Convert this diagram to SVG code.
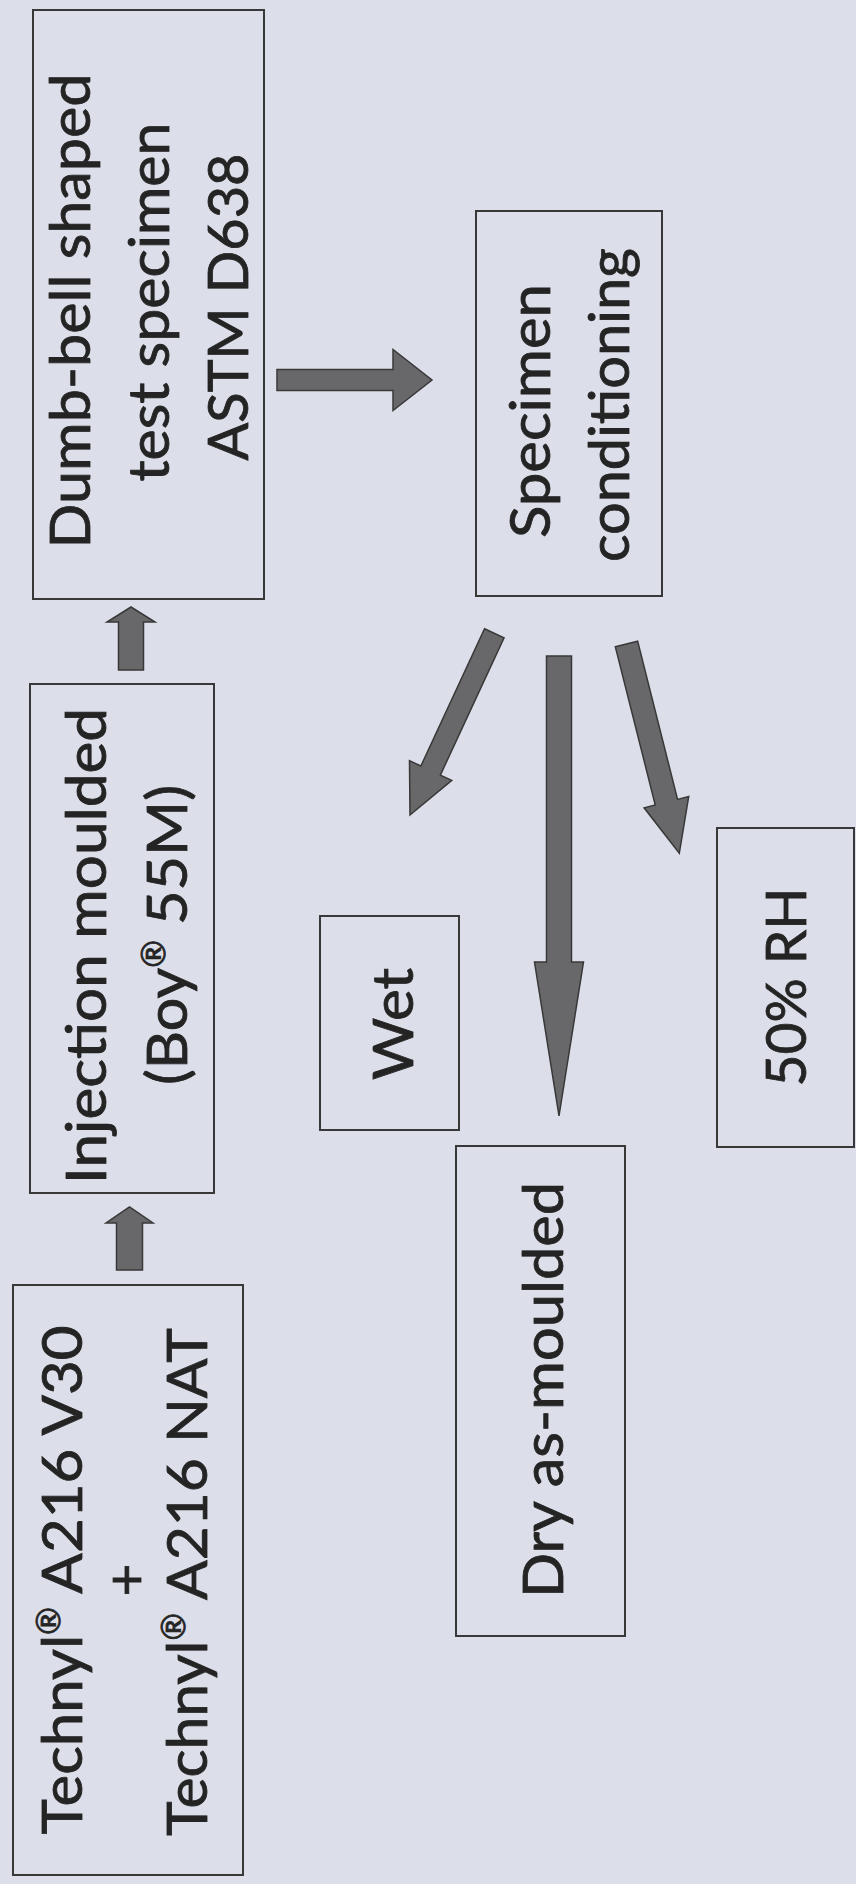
<svg xmlns="http://www.w3.org/2000/svg" width="856" height="1884" viewBox="0 0 856 1884">
<style>
.bg{fill:#dcdfe9}
.box{fill:none;stroke:#383838;stroke-width:2}
.t{font-family:Lato,"Open Sans","Liberation Sans",sans-serif;font-size:57px;fill:#242424;stroke:#242424;stroke-width:0.8;text-anchor:middle}
.arr{fill:#68686b;stroke:#383838;stroke-width:1.5;stroke-linejoin:miter}
</style>
<rect class="bg" x="0" y="0" width="856" height="1884"/>
<g id="connectors">
<polygon class="arr" points="118.5,670 118.5,622 107,622 131,607 155,622 143.5,622 143.5,670"/>
<polygon class="arr" points="116.5,1270 116.5,1223 106,1223 129.5,1207 153,1223 142.5,1223 142.5,1270"/>
<polygon class="arr" points="277,369.5 393,369.5 393,349.5 432,380 393,410.5 393,390.5 277,390.5"/>
<polygon class="arr" points="484.55,628.78 504.05,637.82 440.37,775.07 451.76,780.36 410,815 409.48,760.74 420.87,766.03"/>
<polygon class="arr" points="546.5,656 571.5,656 571.5,962 583.5,962 559,1116 534.5,962 546.5,962"/>
<polygon class="arr" points="615.35,646.81 637.65,641.19 677.56,799.39 688.71,796.57 679.3,853.3 644.11,807.83 655.26,805.01"/>
</g>
<g id="n1">
<rect class="box" x="13" y="1285" width="230" height="590"/>
<text class="t" transform="translate(82,1580) rotate(-90)" textLength="509" lengthAdjust="spacingAndGlyphs">Technyl<tspan font-size="32" dy="-22">®</tspan><tspan dy="22"> A216 V30</tspan></text>
<text class="t" transform="translate(146,1580) rotate(-90)">+</text>
<text class="t" transform="translate(207,1582) rotate(-90)" textLength="508" lengthAdjust="spacingAndGlyphs">Technyl<tspan font-size="32" dy="-22">®</tspan><tspan dy="22"> A216 NAT</tspan></text>
</g>
<g id="n2">
<rect class="box" x="30" y="684" width="184" height="509"/>
<text class="t" transform="translate(106,946) rotate(-90)" textLength="476" lengthAdjust="spacingAndGlyphs">Injection moulded</text>
<text class="t" transform="translate(187,935) rotate(-90)" textLength="300" lengthAdjust="spacingAndGlyphs">(Boy<tspan font-size="32" dy="-22">®</tspan><tspan dy="22"> 55M)</tspan></text>
</g>
<g id="n3">
<rect class="box" x="33" y="10" width="231" height="589"/>
<text class="t" transform="translate(90,311) rotate(-90)" textLength="475" lengthAdjust="spacingAndGlyphs">Dumb-bell shaped</text>
<text class="t" transform="translate(169,302) rotate(-90)" textLength="359" lengthAdjust="spacingAndGlyphs">test specimen</text>
<text class="t" transform="translate(248,307) rotate(-90)" textLength="307" lengthAdjust="spacingAndGlyphs">ASTM D638</text>
</g>
<g id="n4">
<rect class="box" x="476" y="211" width="186" height="385"/>
<text class="t" transform="translate(550,411) rotate(-90)" textLength="254" lengthAdjust="spacingAndGlyphs">Specimen</text>
<text class="t" transform="translate(629,405) rotate(-90)" textLength="314" lengthAdjust="spacingAndGlyphs">conditioning</text>
</g>
<g id="n5">
<rect class="box" x="320" y="916" width="139" height="214"/>
<text class="t" transform="translate(413,1024) rotate(-90)" textLength="112" lengthAdjust="spacingAndGlyphs">Wet</text>
</g>
<g id="n6">
<rect class="box" x="456" y="1146" width="169" height="490"/>
<text class="t" transform="translate(563,1390) rotate(-90)" textLength="416" lengthAdjust="spacingAndGlyphs">Dry as-moulded</text>
</g>
<g id="n7">
<rect class="box" x="717" y="828" width="137" height="319"/>
<text class="t" transform="translate(806,987) rotate(-90)" textLength="199" lengthAdjust="spacingAndGlyphs">50% RH</text>
</g>
</svg>
